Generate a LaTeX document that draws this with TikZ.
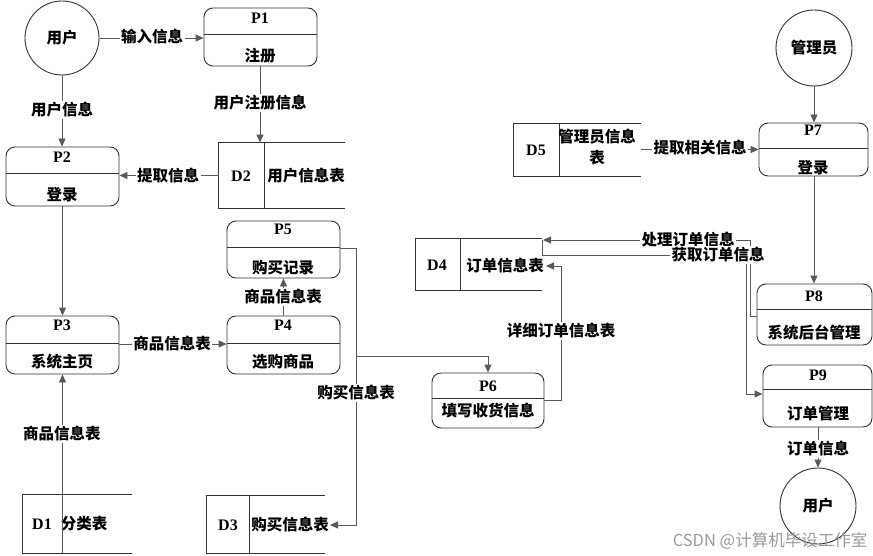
\documentclass[tikz,border=0pt]{standalone}
\usepackage{fontspec}
\setmainfont{Liberation Serif}
\newfontfamily\cjk{Noto Sans CJK SC}
\usetikzlibrary{arrows.meta}
\begin{document}
\begin{tikzpicture}[x=1pt,y=-1pt,
  line width=0.9pt,
  proc/.style={draw=black!80, rounded corners=9pt, inner sep=0pt},
  ent/.style={draw=black!80, circle, inner sep=0pt},
  store/.style={inner sep=0pt},
  flow/.style={draw=black!65, -{Triangle[length=8pt,width=7pt]}},
  plain/.style={draw=black!65},
  sline/.style={draw=black!80},
  cn/.style={font=\cjk\bfseries\fontsize{15.5}{18}\selectfont, inner sep=1pt},
  pl/.style={font=\bfseries\fontsize{16}{18}\selectfont, inner sep=0pt},
  lab/.style={cn, fill=white, inner sep=1.5pt},
  wm/.style={font=\cjk\fontsize{16.5}{18}\selectfont, text=black!40, inner sep=0pt}
]
\useasboundingbox (0,0) rectangle (873,556);

% ---------- entities ----------
\node[ent, minimum size=74pt] (u1) at (62,38) {};
\node[cn] at (u1) {用户};
\node[ent, minimum size=76pt] (adm) at (814,48) {};
\node[cn] at (adm) {管理员};
\node[ent, minimum size=76pt] (u2) at (818,506) {};
\node[cn] at (u2) {用户};

% ---------- processes ----------
\node[proc, minimum width=113pt, minimum height=58pt] (p1) at (260.5,37) {};
\draw[sline] (p1.west |- 0,34) -- (p1.east |- 0,34);
\node[pl] at (260,18) {P1};
\node[cn] at (260,56) {注册};

\node[proc, minimum width=113pt, minimum height=59pt] (p2) at (62.5,176.5) {};
\draw[sline] (p2.west |- 0,173) -- (p2.east |- 0,173);
\node[pl] at (62,157) {P2};
\node[cn] at (62,195) {登录};

\node[proc, minimum width=113pt, minimum height=58pt] (p3) at (62.5,345) {};
\draw[sline] (p3.west |- 0,343) -- (p3.east |- 0,343);
\node[pl] at (62,325) {P3};
\node[cn] at (62,362) {系统主页};

\node[proc, minimum width=113pt, minimum height=58pt] (p4) at (283.5,345) {};
\draw[sline] (p4.west |- 0,343) -- (p4.east |- 0,343);
\node[pl] at (283,325) {P4};
\node[cn] at (283,362) {选购商品};

\node[proc, minimum width=113pt, minimum height=57pt] (p5) at (283.5,249.5) {};
\draw[sline] (p5.west |- 0,247) -- (p5.east |- 0,247);
\node[pl] at (283,229) {P5};
\node[cn] at (283,268) {购买记录};

\node[proc, minimum width=112pt, minimum height=55pt] (p6) at (488,400.5) {};
\draw[sline] (p6.west |- 0,398) -- (p6.east |- 0,398);
\node[pl] at (488,386) {P6};
\node[cn] at (488,411) {填写收货信息};

\node[proc, minimum width=109pt, minimum height=53pt] (p7) at (813.5,149.5) {};
\draw[sline] (p7.west |- 0,148) -- (p7.east |- 0,148);
\node[pl] at (813,130) {P7};
\node[cn] at (813,168) {登录};

\node[proc, minimum width=115pt, minimum height=61pt] (p8) at (814.5,314.5) {};
\draw[sline] (p8.west |- 0,309) -- (p8.east |- 0,309);
\node[pl] at (814,296) {P8};
\node[cn] at (814,333) {系统后台管理};

\node[proc, minimum width=109pt, minimum height=62pt] (p9) at (817.5,396) {};
\draw[sline] (p9.west |- 0,389) -- (p9.east |- 0,389);
\node[pl] at (818,375) {P9};
\node[cn] at (818,414) {订单管理};

% ---------- data stores ----------
\node[store, minimum width=126pt, minimum height=65pt] (d2) at (282,175.5) {};
\draw[sline] (d2.north east) -- (d2.north west) -- (d2.south west) -- (d2.south east);
\draw[sline] (264,143) -- (264,208);
\node[pl] at (241,176) {D2};
\node[cn] at (306,176) {用户信息表};

\node[store, minimum width=109pt, minimum height=58pt] (d1) at (77.5,524) {};
\draw[sline] (d1.north east) -- (d1.north west) -- (d1.south west) -- (d1.south east);
\node[pl] at (42,524) {D1};
\node[cn] at (84,524) {分类表};

\node[store, minimum width=118pt, minimum height=57pt] (d3) at (266,524.5) {};
\draw[sline] (d3.north east) -- (d3.north west) -- (d3.south west) -- (d3.south east);
\draw[sline] (249,496) -- (249,553);
\node[pl] at (228,525) {D3};
\node[cn] (d3t) at (290,525) {购买信息表};

\node[store, minimum width=126pt, minimum height=51pt] (d4) at (479,264.5) {};
\draw[sline] (d4.north east) -- (d4.north west) -- (d4.south west) -- (d4.south east);
\draw[sline] (460,239) -- (460,290);
\node[pl] at (437,265) {D4};
\node[cn] (d4t) at (505,266) {订单信息表};

\node[store, minimum width=127pt, minimum height=52pt] (d5) at (577.5,150) {};
\draw[sline] (d5.north east) -- (d5.north west) -- (d5.south west) -- (d5.south east);
\draw[sline] (559,124) -- (559,176);
\node[pl] at (536,150) {D5};
\node[cn, align=center, font=\cjk\bfseries\fontsize{15.5}{21}\selectfont] at (597,147) {管理员信息\\表};

% ---------- junction coordinates ----------
\coordinate (c1) at (356,248);
\coordinate (c2) at (356,356);
\coordinate (c3) at (356,525);
\coordinate (d3in) at (330,525);
\coordinate (e1) at (561,400);
\coordinate (e2) at (561,266);
\coordinate (d4in) at (546,266);
\coordinate (f1) at (750,316);
\coordinate (f2) at (750,240);
\coordinate (d4top) at (543,240);
\coordinate (g1) at (542,240);
\coordinate (g2) at (542,255);
\coordinate (g3) at (746,255);
\coordinate (g4) at (746,394);

% ---------- connectors ----------
\draw[flow] (u1.east) -- (u1.east -| p1.west);
\draw[flow] (u1.south) -- (u1.south |- p2.north);
\draw[flow] (p1.south -| 260,0) -- (d2.north -| 260,0);
\draw[flow] (d2.west) -- (d2.west -| p2.east);
\draw[flow] (p2.south) -- (p3.north);
\draw[flow] (d1.south -| p3.south) -- (p3.south);
\draw[flow] (p3.east |- 0,344) -- (p4.west |- 0,344);
\draw[flow] (p4.north) -- (p5.south);
\draw[flow] (p5.east |- c1) -- (c1) -- (c3) -- (d3in);
\draw[flow] (c2) -- (c2 -| p6.north) -- (p6.north);
\draw[flow] (p6.east |- e1) -- (e1) -- (e2) -- (d4in);
\draw[flow] (p8.west |- f1) -- (f1) -- (f2) -- (d4top);
\draw[flow] (g1) -- (g2) -- (g3) -- (g4) -- (g4 -| p9.west);
\draw[flow] (d5.east |- p7.west) -- (p7.west);
\draw[flow] (adm.south) -- (adm.south |- p7.north);
\draw[flow] (p7.south -| 814,0) -- (p8.north -| 814,0);
\draw[flow] (p9.south -| 818,0) -- (u2.north);

% ---------- connector labels ----------
\node[lab] at (152,37) {输入信息};
\node[lab] at (62,110) {用户信息};
\node[lab] at (260,103) {用户注册信息};
\node[lab] at (168,176) {提取信息};
\node[lab] at (62,434) {商品信息表};
\node[lab] at (172,344) {商品信息表};
\node[lab] at (283,297) {商品信息表};
\node[lab] at (356,393) {购买信息表};
\node[lab] at (561,331) {详细订单信息表};
\node[lab] at (688,240) {处理订单信息};
\node[lab] at (718,255) {获取订单信息};
\node[lab] at (700,148) {提取相关信息};
\node[lab] at (818,449) {订单信息};

% ---------- watermark ----------
\node[wm] at (770,541) {CSDN @计算机毕设工作室};
\end{tikzpicture}
\end{document}
